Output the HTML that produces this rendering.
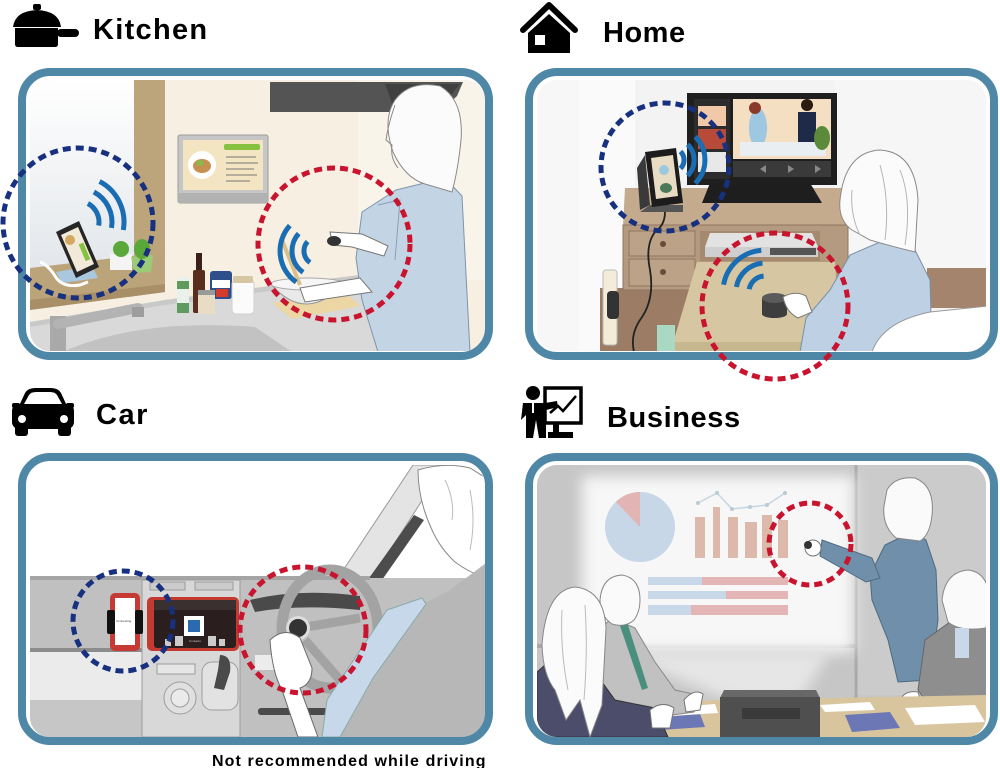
<!DOCTYPE html>
<html><head><meta charset="utf-8"><style>
html,body{margin:0;padding:0;background:#fff;width:1000px;height:768px;overflow:hidden}
svg{display:block}
.t{font-family:"Liberation Sans",sans-serif;font-weight:bold;fill:#000}
</style></head><body>
<svg width="1000" height="768" viewBox="0 0 1000 768" xmlns="http://www.w3.org/2000/svg">
<defs>
<clipPath id="ck"><rect x="30" y="80" width="455" height="271" rx="20"/></clipPath>
<clipPath id="ch"><rect x="537" y="80" width="449" height="271" rx="20"/></clipPath>
<clipPath id="cc"><rect x="30" y="465" width="455" height="272" rx="20"/></clipPath>
<clipPath id="cb"><rect x="537" y="465" width="449" height="272" rx="20"/></clipPath>
<linearGradient id="kwin" x1="0" y1="0" x2="0" y2="1"><stop offset="0" stop-color="#ffffff"/><stop offset="1" stop-color="#e2e6ea"/></linearGradient>
<filter id="bl" x="-20%" y="-20%" width="140%" height="140%"><feGaussianBlur stdDeviation="7"/></filter>
</defs>

<!-- ================= TITLES ================= -->
<rect x="33" y="4" width="8" height="6" rx="2" fill="#000"/>
<path d="M13,27 Q15,11 37,10 Q59,11 61,27 Z" fill="#000"/>
<path d="M15,28 L58,28 L58,44 Q58,47 55,47 L18,47 Q15,47 15,44 Z" fill="#000"/>
<rect x="57" y="29" width="22" height="8" rx="4" fill="#000"/>
<text class="t" x="93" y="39" font-size="29" letter-spacing="1.3">Kitchen</text>

<polyline points="523,30 549,5 575,30" fill="none" stroke="#000" stroke-width="6" stroke-linecap="round" stroke-linejoin="round"/>
<path d="M528,53 L528,33 L549,14 L570,33 L570,53 Z" fill="#000"/>
<rect x="535" y="35" width="10" height="10" fill="#fff"/>
<text class="t" x="603" y="42" font-size="29" letter-spacing="0.5">Home</text>

<path d="M19,406 L25,393 Q28,388 35,388 L51,388 Q58,388 61,393 L67,406 Z" fill="#000"/>
<path d="M24,404 L29,395 Q31,392 36,392 L50,392 Q55,392 57,395 L62,404 Z" fill="#fff"/>
<rect x="12" y="403" width="8" height="5" rx="2" fill="#000"/>
<rect x="66" y="403" width="8" height="5" rx="2" fill="#000"/>
<rect x="12" y="404" width="62" height="25" rx="7" fill="#000"/>
<circle cx="22" cy="419" r="4" fill="#fff"/>
<circle cx="64" cy="419" r="4" fill="#fff"/>
<rect x="15" y="424" width="13" height="12" rx="3" fill="#000"/>
<rect x="58" y="424" width="13" height="12" rx="3" fill="#000"/>
<text class="t" x="96" y="424" font-size="29" letter-spacing="1.5">Car</text>

<circle cx="533" cy="393" r="7" fill="#000"/>
<path d="M523,403 L545,403 L557,401 L558,407 L546,410 L546,438 L539,438 L536,420 L533,438 L526,438 L526,415 L521,420 Z" fill="#000"/>
<rect x="532" y="403" width="2" height="10" fill="#fff"/>
<rect x="545" y="388" width="36" height="35" fill="none" stroke="#000" stroke-width="3.5"/>
<polyline points="550,413 558,406 563,411 576,396" fill="none" stroke="#000" stroke-width="2.5"/>
<rect x="553" y="424" width="6" height="10" fill="#000"/>
<rect x="548" y="432" width="25" height="6" fill="#000"/>
<text class="t" x="607" y="427" font-size="29" letter-spacing="0.6">Business</text>

<text class="t" x="212" y="766" font-size="16" letter-spacing="1.1">Not recommended while driving</text>

<!-- ================= PANEL FRAMES ================= -->
<rect x="22" y="72" width="467" height="284" rx="28" fill="#fff"/>
<rect x="529" y="72" width="465" height="284" rx="28" fill="#fff"/>
<rect x="22" y="457" width="467" height="284" rx="28" fill="#fff"/>
<rect x="529" y="457" width="465" height="284" rx="28" fill="#fff"/>

<!-- ================= KITCHEN SCENE ================= -->
<g clip-path="url(#ck)">
<rect x="30" y="80" width="455" height="272" fill="#f6efe2"/>
<rect x="30" y="80" width="104" height="195" fill="url(#kwin)"/>
<rect x="358" y="80" width="127" height="200" fill="#f9f4ea"/>
<rect x="134" y="80" width="31" height="212" fill="#bda57b"/>
<polygon points="30,268 165,252 165,292 30,310" fill="#bca47a"/>
<polygon points="30,300 165,284 165,292 30,310" fill="#a98f67"/>
<polygon points="30,352 30,322 165,300 270,286 385,272 385,352" fill="#d9d9d9"/>
<polygon points="30,322 165,300 270,286 385,272 385,276 270,291 165,305 30,327" fill="#c9c9c9"/>
<path d="M62,352 Q140,318 255,327 L292,352 Z" fill="#c2c2c2"/>
<rect x="50" y="316" width="16" height="36" fill="#a9a9a9"/>
<path d="M58,324 L138,308" stroke="#b3b3b3" stroke-width="10" stroke-linecap="round"/>
<rect x="132" y="307" width="12" height="10" fill="#9d9d9d"/>
<polygon points="270,82 463,82 457,96 440,112 270,112" fill="#545454"/>
<polygon points="385,84 460,84 442,106 392,103" fill="#404040"/>
<rect x="178" y="135" width="90" height="68" rx="2" fill="#c6c6c6" stroke="#9c9c9c"/>
<rect x="183" y="140" width="80" height="50" fill="#f3e4c2"/>
<rect x="224" y="144" width="36" height="6" rx="2" fill="#86c240"/>
<circle cx="202" cy="165" r="14" fill="#fff"/>
<ellipse cx="202" cy="166" rx="9" ry="7" fill="#c89050"/>
<ellipse cx="200" cy="163" rx="4" ry="3" fill="#8ab84a"/>
<g stroke="#777" stroke-width="1"><line x1="226" y1="157" x2="256" y2="157"/><line x1="226" y1="163" x2="258" y2="163"/><line x1="226" y1="169" x2="254" y2="169"/><line x1="226" y1="175" x2="257" y2="175"/><line x1="226" y1="181" x2="250" y2="181"/></g>
<rect x="178" y="193" width="90" height="10" fill="#b2b2b2"/>
<polygon points="56,272 92,266 98,278 62,283" fill="#a9c8e0"/>
<path d="M40,262 Q48,265 55,276 Q62,288 80,285 L88,282" fill="none" stroke="#fff" stroke-width="3"/>
<polygon points="56,232 79,221 99,267 76,278" fill="#262626"/>
<polygon points="61,235 78,227 94,264 77,272" fill="#f2ead8"/>
<circle cx="70" cy="240" r="5" fill="#d4a860"/>
<rect x="82" y="243" width="5" height="18" fill="#86c240" transform="rotate(-23 84 252)"/>
<rect x="110" y="254" width="22" height="16" fill="#f4f4f4"/>
<ellipse cx="121" cy="249" rx="8" ry="8" fill="#5aa83a"/>
<polygon points="131,257 153,255 151,272 134,273" fill="#9ccb78"/>
<ellipse cx="142" cy="249" rx="8" ry="10" fill="#5aa83a"/>
<rect x="177" y="277" width="12" height="36" fill="#eaf0ea"/>
<rect x="177" y="281" width="12" height="8" fill="#5f9a5f"/>
<rect x="177" y="303" width="12" height="10" fill="#5f9a5f"/>
<rect x="196" y="253" width="6" height="20" fill="#3a2018"/>
<rect x="193" y="270" width="12" height="43" rx="2" fill="#5a2e1e"/>
<rect x="210" y="271" width="22" height="28" rx="3" fill="#2f4f8a"/>
<rect x="212" y="280" width="18" height="8" fill="#fff"/>
<rect x="216" y="289" width="12" height="8" fill="#d63a2a"/>
<rect x="198" y="292" width="17" height="22" rx="2" fill="#e8dcc4"/>
<rect x="198" y="290" width="17" height="5" fill="#9a9a9a"/>
<rect x="232" y="280" width="22" height="34" rx="4" fill="#fbfbfb" stroke="#cfcfcf"/>
<rect x="233" y="276" width="20" height="7" rx="2" fill="#d7c6a2"/>
<polygon points="272,303 345,292 360,306 292,319" fill="#ecd6a4"/>
<path d="M271,284 Q306,325 346,282 Z" fill="#e9e9e9" stroke="#999"/>
<ellipse cx="308" cy="284" rx="37" ry="6" fill="#f6f6f6" stroke="#aaa"/>
<line x1="282" y1="240" x2="300" y2="285" stroke="#d9c08a" stroke-width="4"/>
<path d="M362,212 L396,190 L445,178 L462,196 L470,352 L378,352 L362,300 L356,258 Z" fill="#c3d4e5" stroke="#7f94aa"/>
<path d="M378,205 L400,200 L395,260" fill="none" stroke="#8aa0b6"/>
<path d="M395,100 Q410,80 440,86 Q464,100 461,140 Q458,170 452,192 L425,184 Q405,178 393,152 Q382,120 395,100 Z" fill="#fbfbfb" stroke="#8a8a8a"/>
<path d="M395,105 Q388,125 386,140 L392,145 Q390,158 398,168" fill="none" stroke="#8a8a8a"/>
<path d="M330,232 L362,234 L388,246 L384,256 L352,247 L333,245 Z" fill="#fff" stroke="#777"/>
<ellipse cx="334" cy="241" rx="7" ry="5" fill="#333"/>
<path d="M300,288 L360,278 L372,292 L305,302 Z" fill="#fff" stroke="#777"/>
</g>
<rect x="22" y="72" width="467" height="284" rx="28" fill="none" stroke="#4f87a6" stroke-width="8"/>
<g fill="none" stroke="#1a6db3" stroke-width="5">
<path d="M87.9,203.5 A21,21 0 0,1 98.7,225.6"/>
<path d="M93.9,192 A34,34 0 0,1 111.5,227.9"/>
<path d="M99.6,181.4 A46,46 0 0,1 123.3,230"/>
<path d="M310,262.5 A14,14 0 0,1 307.6,241.6"/>
<path d="M303.1,272.3 A26,26 0 0,1 298.7,233.6"/>
<path d="M296.2,282.1 A38,38 0 0,1 289.8,225.6"/>
</g>
<circle cx="78" cy="223" r="75" fill="none" stroke="#17307f" stroke-width="5" stroke-dasharray="8 5"/>
<circle cx="334" cy="244" r="76" fill="none" stroke="#c8142e" stroke-width="5" stroke-dasharray="8 5"/>

<!-- ================= HOME SCENE ================= -->
<g clip-path="url(#ch)">
<rect x="537" y="80" width="449" height="272" fill="#f3f3f3"/>
<rect x="537" y="80" width="42" height="272" fill="#f7f7f7"/>
<rect x="579" y="80" width="56" height="272" fill="#fafafa"/>
<rect x="835" y="80" width="151" height="200" fill="#f6f6f6"/>
<rect x="927" y="268" width="60" height="40" fill="#a5846e"/>
<rect x="600" y="288" width="90" height="64" fill="#9c7c64"/>
<rect x="603" y="270" width="14" height="75" rx="3" fill="#f2ecd8" stroke="#bbb"/>
<rect x="607" y="291" width="12" height="28" rx="4" fill="#333"/>
<polygon points="625,188 845,188 848,227 623,227" fill="#c4ab8e"/>
<rect x="623" y="225" width="225" height="65" fill="#b49a7e" stroke="#8f7660"/>
<rect x="629" y="231" width="66" height="25" fill="#bca286" stroke="#8f7660"/>
<rect x="629" y="259" width="66" height="27" fill="#bca286" stroke="#8f7660"/>
<circle cx="663" cy="244" r="3" fill="#6b4a3a"/>
<circle cx="663" cy="272" r="3" fill="#6b4a3a"/>
<rect x="700" y="231" width="120" height="30" fill="#a58a70"/>
<polygon points="710,233 812,233 818,247 705,247" fill="#e2e2e2"/>
<rect x="705" y="247" width="113" height="10" fill="#cfcfcf"/>
<rect x="770" y="248" width="46" height="7" fill="#555"/>
<polygon points="710,183 810,183 822,203 702,203" fill="#1e1e1e"/>
<rect x="687" y="93" width="150" height="92" fill="#1f1f1f"/>
<rect x="694" y="99" width="36" height="80" fill="#2c2c2c"/>
<rect x="698" y="106" width="28" height="20" fill="#f1c9a8"/>
<rect x="698" y="129" width="28" height="20" fill="#b84a3a"/>
<rect x="698" y="152" width="28" height="20" fill="#e8e8e8"/>
<rect x="733" y="99" width="98" height="60" fill="#f4dfc2"/>
<ellipse cx="758" cy="128" rx="9" ry="20" fill="#9ec8e2"/>
<circle cx="755" cy="108" r="6" fill="#8a3a2a"/>
<rect x="798" y="112" width="18" height="35" fill="#1e2a48"/>
<circle cx="807" cy="105" r="6" fill="#2a1a10"/>
<rect x="740" y="142" width="86" height="14" fill="#e9eef2"/>
<ellipse cx="822" cy="138" rx="8" ry="12" fill="#5a8a3a"/>
<rect x="733" y="161" width="98" height="16" fill="#3a3a3a"/>
<g fill="#888"><polygon points="760,169 766,165 766,173"/><polygon points="788,165 794,169 788,173"/><polygon points="815,165 821,169 815,173"/></g>
<polygon points="640,212 683,212 683,205 650,205" fill="#555"/>
<polygon points="637,168 645,155 650,205 640,210" fill="#3a3a3a"/>
<polygon points="645,152 676,148 683,203 652,207" fill="#1c1c1c"/>
<polygon points="651,158 673,155 678,196 656,199" fill="#e8dcc4"/>
<circle cx="664" cy="170" r="5" fill="#9cc8e0"/>
<ellipse cx="666" cy="188" rx="6" ry="5" fill="#4a7a5a"/>
<path d="M665,212 Q665,225 655,232 Q645,245 650,270 Q655,300 640,320 Q630,335 634,352" fill="none" stroke="#222" stroke-width="1.8"/>
<polygon points="697,262 835,262 840,343 673,343" fill="#d6c7a2"/>
<rect x="673" y="342" width="168" height="10" fill="#c7b78f"/>
<rect x="657" y="325" width="18" height="27" fill="#a9d9c2"/>
<rect x="762" y="298" width="25" height="16" fill="#3e3e3e"/>
<ellipse cx="774.5" cy="298" rx="12.5" ry="5" fill="#5a5a5a"/>
<ellipse cx="774.5" cy="314" rx="12.5" ry="4" fill="#3e3e3e"/>
<path d="M800,352 L806,318 L830,290 L850,255 L880,242 L915,250 L930,280 L932,352 Z" fill="#bdd0e4" stroke="#7a8fa5"/>
<path d="M783,297 Q795,290 806,296 L812,312 L798,318 Q786,312 783,297 Z" fill="#fff" stroke="#777"/>
<path d="M840,200 Q845,152 880,150 Q915,152 918,200 L915,252 Q890,246 870,240 L852,230 Q838,220 840,200 Z" fill="#fbfbfb" stroke="#8a8a8a"/>
<path d="M852,190 Q850,215 860,235 M880,165 Q890,200 885,240 M900,170 Q912,200 905,245" fill="none" stroke="#b5b5b5"/>
<path d="M872,352 Q882,322 930,312 L988,306 L988,352 Z" fill="#fff" stroke="#999"/>
</g>
<rect x="529" y="72" width="465" height="284" rx="28" fill="none" stroke="#4f87a6" stroke-width="8"/>
<g fill="none" stroke="#1a6db3" stroke-width="5">
<path d="M680.5,151.5 A12,12 0 0,1 680.5,168.5"/>
<path d="M687.6,144.4 A22,22 0 0,1 687.6,175.6"/>
<path d="M695.3,136.7 A33,33 0 0,1 695.3,183.3"/>
<path d="M749.2,289.2 A16,16 0 0,1 763.6,276.1"/>
<path d="M736.4,287 A29,29 0 0,1 762.5,263.1"/>
<path d="M723.6,284.7 A42,42 0 0,1 761.3,250.2"/>
</g>
<circle cx="665" cy="167" r="64" fill="none" stroke="#17307f" stroke-width="5" stroke-dasharray="8 5"/>
<circle cx="775" cy="306" r="73" fill="none" stroke="#c8142e" stroke-width="5" stroke-dasharray="8 5"/>

<!-- ================= CAR SCENE ================= -->
<g clip-path="url(#cc)">
<rect x="30" y="465" width="455" height="272" fill="#fff"/>
<polygon points="413,465 445,465 372,578 338,578" fill="#e4e4e4" stroke="#9a9a9a"/>
<polygon points="414,515 424,520 375,590 362,588" fill="#4c4c4c"/>
<path d="M418,470 Q445,462 470,468 L486,478 L486,578 Q468,572 455,562 Q440,548 432,530 Q418,500 418,470 Z" fill="#fff" stroke="#8a8a8a"/>
<path d="M445,480 Q455,500 452,520 M470,490 Q476,520 470,550" fill="none" stroke="#bbb"/>
<rect x="30" y="578" width="455" height="159" fill="#c0c0c0"/>
<rect x="30" y="576" width="340" height="4" fill="#a5a5a5"/>
<rect x="30" y="648" width="115" height="4" fill="#8c8c8c"/>
<rect x="30" y="652" width="115" height="48" fill="#ebebeb"/>
<rect x="30" y="700" width="115" height="37" fill="#c6c6c6"/>
<path d="M142,580 L240,580 L240,737 L142,737 Z" fill="#d8d8d8" stroke="#9c9c9c"/>
<rect x="150" y="582" width="35" height="8" fill="#cbcbcb" stroke="#9c9c9c"/>
<rect x="195" y="582" width="38" height="8" fill="#cbcbcb" stroke="#9c9c9c"/>
<rect x="147" y="597" width="92" height="54" rx="5" fill="#c23a30"/>
<rect x="154" y="600" width="82" height="48" rx="3" fill="#2a1e1e"/>
<rect x="154" y="600" width="82" height="10" fill="#3a3030"/>
<g fill="#ccc"><rect x="165" y="639" width="6" height="7"/><rect x="175" y="636" width="8" height="10"/><rect x="208" y="636" width="8" height="10"/><rect x="219" y="639" width="6" height="7"/></g>
<rect x="184" y="616" width="20" height="20" fill="#fff"/>
<rect x="188" y="620" width="12" height="12" fill="#2a6ab0"/>
<text x="189" y="642" font-family="Liberation Sans,sans-serif" font-size="3" fill="#ccc">Contacts</text>
<rect x="110" y="593" width="30" height="58" rx="5" fill="#c53b33"/>
<rect x="115" y="598" width="20" height="47" fill="#fff"/>
<rect x="107" y="610" width="8" height="24" rx="2" fill="#111"/>
<rect x="135" y="610" width="8" height="24" rx="2" fill="#111"/>
<text x="116" y="622" font-family="Liberation Sans,sans-serif" font-size="3" fill="#333">Connecting</text>
<rect x="157" y="664" width="38" height="10" fill="#e6e6e6" stroke="#9c9c9c"/>
<circle cx="180" cy="698" r="16" fill="#e0e0e0" stroke="#9c9c9c"/>
<circle cx="180" cy="698" r="9" fill="#eaeaea" stroke="#9c9c9c"/>
<rect x="202" y="662" width="36" height="48" rx="10" fill="#e2e2e2" stroke="#9c9c9c"/>
<path d="M220,655 Q232,655 230,672 L224,690 L214,688 L218,670 Z" fill="#4a4a4a"/>
<path d="M250,600 Q300,588 360,596 L360,610 Q300,604 255,612 Z" fill="#4a4a4a"/>
<rect x="255" y="655" width="20" height="15" fill="#ececec"/>
<rect x="258" y="708" width="70" height="7" rx="3" fill="#4a4a4a"/>
<ellipse cx="330" cy="629" rx="48" ry="59" fill="none" stroke="#a3a3a3" stroke-width="11"/>
<path d="M300,628 L360,618 M305,640 L340,680" stroke="#a3a3a3" stroke-width="9"/>
<circle cx="298" cy="628" r="12" fill="#ddd"/>
<circle cx="298" cy="628" r="9" fill="#333"/>
<path d="M270,640 Q285,626 300,638 L312,668 Q312,684 300,688 L318,737 L298,737 L282,690 Q272,672 270,640 Z" fill="#fff" stroke="#6a6a6a"/>
<polygon points="340,737 372,680 425,603 450,590 486,563 486,737" fill="#b7b7b7"/>
<polygon points="322,737 327,700 387,610 422,598 426,604 373,678 340,737" fill="#c7d8ea" stroke="#8aa"/>
</g>
<rect x="22" y="457" width="467" height="284" rx="28" fill="none" stroke="#4f87a6" stroke-width="8"/>
<circle cx="123" cy="621" r="50" fill="none" stroke="#17307f" stroke-width="5" stroke-dasharray="8 5"/>
<circle cx="303" cy="630" r="63" fill="none" stroke="#c8142e" stroke-width="5" stroke-dasharray="8 5"/>

<!-- ================= BUSINESS SCENE ================= -->
<g clip-path="url(#cb)">
<rect x="537" y="465" width="449" height="272" fill="#c6c6c6"/>
<rect x="858" y="465" width="128" height="230" fill="#cbcbcb"/>
<line x1="856" y1="465" x2="856" y2="700" stroke="#a9a9a9" stroke-width="3"/>
<rect x="537" y="644" width="320" height="4" fill="#a8a8a8"/>
<rect x="582" y="476" width="272" height="176" fill="#f7f7f7" filter="url(#bl)"/>
<polygon points="610,652 830,652 800,700 730,700" fill="#e6e6e6" filter="url(#bl)"/>
<circle cx="640" cy="527" r="35" fill="#c7d7e7"/>
<path d="M640,527 L640,492 A35,35 0 0,0 616,502 Z" fill="#e2b4b4"/>
<polyline points="698,503 717,493 732,509 750,507 767,505 785,493" fill="none" stroke="#c6d6e0" stroke-width="1.5"/>
<g fill="#b8cbd6"><circle cx="698" cy="503" r="2"/><circle cx="717" cy="493" r="2"/><circle cx="732" cy="509" r="2"/><circle cx="750" cy="507" r="2"/><circle cx="767" cy="505" r="2"/><circle cx="785" cy="493" r="2"/></g>
<g fill="#dcb9aa"><rect x="695" y="517" width="10" height="41"/><rect x="713" y="507" width="7" height="51"/><rect x="728" y="517" width="10" height="41"/><rect x="745" y="522" width="12" height="36"/><rect x="762" y="515" width="10" height="43"/><rect x="778" y="520" width="10" height="38"/></g>
<rect x="648" y="577" width="140" height="8" fill="#e3b5b5"/><rect x="648" y="577" width="54" height="8" fill="#c8d8e8"/>
<rect x="648" y="591" width="140" height="8" fill="#e3b5b5"/><rect x="648" y="591" width="78" height="8" fill="#c8d8e8"/>
<rect x="648" y="605" width="140" height="10" fill="#e3b5b5"/><rect x="648" y="605" width="43" height="10" fill="#c8d8e8"/>
<path d="M885,545 L912,532 L926,540 L936,570 L938,620 L930,680 L898,682 L888,640 L872,600 L870,575 Z" fill="#6f8fab" stroke="#4e6a80"/>
<path d="M822,540 L872,558 L880,578 L866,582 L820,556 Z" fill="#6f8fab" stroke="#4e6a80"/>
<path d="M887,490 Q895,476 915,478 Q935,486 932,515 Q930,535 920,541 L896,538 Q882,526 884,506 Z" fill="#fafafa" stroke="#888"/>
<circle cx="813" cy="548" r="8" fill="#fff" stroke="#777"/>
<circle cx="808" cy="545" r="4" fill="#333"/>
<path d="M918,690 L925,640 L950,622 L988,616 L988,705 L930,708 Z" fill="#8e8e8e" stroke="#666"/>
<path d="M942,600 Q945,572 968,570 Q988,572 990,600 L986,628 Q960,632 948,622 Z" fill="#fafafa" stroke="#888"/>
<rect x="955" y="628" width="14" height="30" fill="#c8d8e8"/>
<path d="M900,700 Q905,690 918,692 L922,705 L902,707 Z" fill="#fff" stroke="#777"/>
<polygon points="600,737 622,705 720,700 988,695 988,737" fill="#d8c59d"/>
<polygon points="845,715 890,712 900,728 852,732" fill="#6c77b6"/>
<polygon points="820,705 870,702 875,710 825,712" fill="#fff"/>
<polygon points="905,708 975,705 985,722 915,725" fill="#fff"/>
<polygon points="650,718 700,714 705,727 660,730" fill="#6c77b6"/>
<polygon points="665,708 715,704 718,713 670,716" fill="#fff"/>
<polygon points="724,690 816,690 820,698 720,698" fill="#686868"/>
<rect x="720" y="697" width="100" height="40" fill="#4f4f4f"/>
<rect x="742" y="708" width="58" height="11" fill="#3a3a3a"/>
<!-- left man -->
<path d="M598,712 L588,640 L612,618 L635,628 L655,662 L675,690 L698,695 L694,712 L650,718 Z" fill="#c1c1c1" stroke="#888"/>
<path d="M620,626 L642,690 L648,688 L627,622 Z" fill="#4a8f7e"/>
<path d="M600,600 Q602,576 622,575 Q640,578 640,600 Q640,612 634,620 Q625,628 612,624 Q600,616 600,600 Z" fill="#fafafa" stroke="#888"/>
<path d="M684,700 Q694,688 703,694 L700,710 L686,712 Z" fill="#fff" stroke="#777"/>
<!-- left woman -->
<path d="M537,672 L562,650 L592,668 L615,700 L655,708 L668,737 L537,737 Z" fill="#4b4d6b" stroke="#333"/>
<path d="M542,645 Q546,590 575,587 Q604,590 606,628 L602,705 L590,737 L580,700 L566,720 L555,690 Q543,675 542,645 Z" fill="#fbfbfb" stroke="#888"/>
<path d="M562,610 Q560,650 568,690 M585,605 Q588,650 584,700" fill="none" stroke="#bbb"/>
<path d="M650,710 Q662,700 674,708 L670,728 L652,728 Z" fill="#fff" stroke="#777"/>
</g>
<rect x="529" y="457" width="465" height="284" rx="28" fill="none" stroke="#4f87a6" stroke-width="8"/>
<circle cx="810" cy="544" r="41" fill="none" stroke="#c8142e" stroke-width="5" stroke-dasharray="8 5"/>
</svg>
</body></html>
